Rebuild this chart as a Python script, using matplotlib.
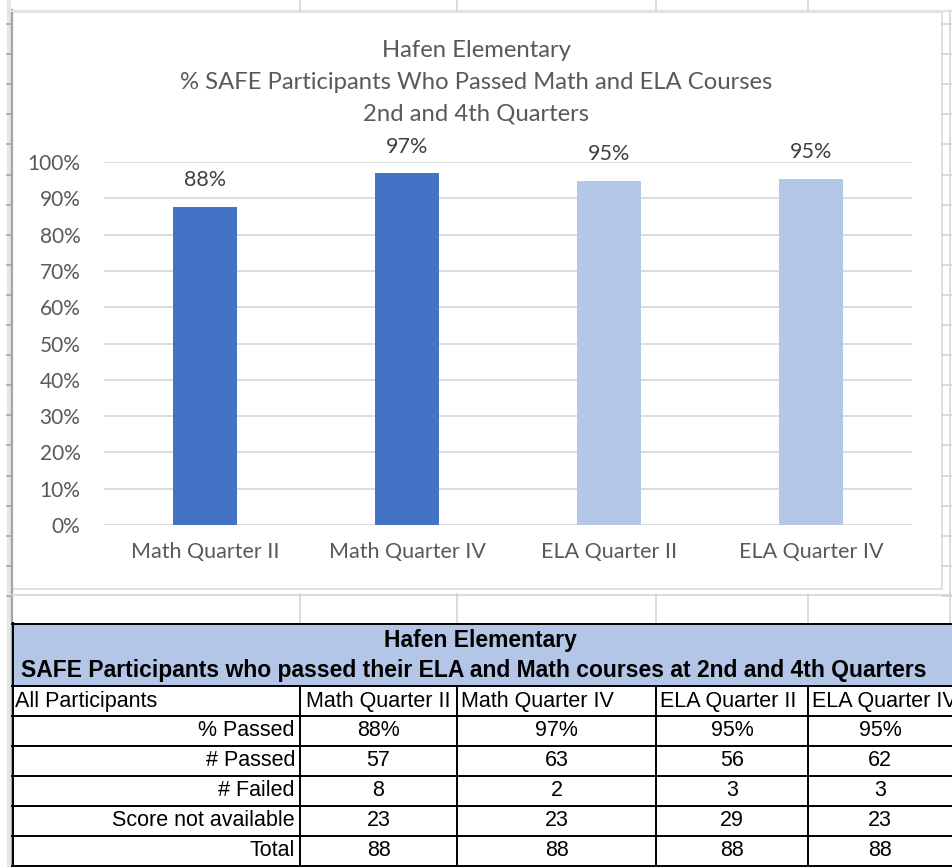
"""Hafen Elementary: SAFE pass rates chart with the summary table below it."""

import matplotlib

matplotlib.use("Agg")
import matplotlib.pyplot as plt
from matplotlib.patches import Rectangle
from matplotlib.ticker import PercentFormatter
import numpy as np


CATEGORIES = ["Math Quarter II", "Math Quarter IV", "ELA Quarter II", "ELA Quarter IV"]
PCT_PASSED = [0.877, 0.969, 0.949, 0.954]
BAR_COLORS = ["#4472C4", "#4472C4", "#B4C7E7", "#B4C7E7"]

TITLE_LINES = [
    "Hafen Elementary",
    "% SAFE Participants Who Passed Math and ELA Courses",
    "2nd and 4th Quarters",
]

TABLE_TITLE = [
    "Hafen Elementary",
    "SAFE Participants who passed their ELA and Math courses at 2nd and 4th Quarters",
]
ROW_LABELS = ["% Passed", "# Passed", "# Failed", "Score not available", "Total"]
N_PASSED = [57, 63, 56, 62]
N_FAILED = [8, 2, 3, 3]
N_NOT_AVAILABLE = [23, 23, 29, 23]
N_TOTAL = [88, 88, 88, 88]

W, H = 952, 867
CHART_FONT = "Lato"
TABLE_FONT = ["Liberation Sans", "DejaVu Sans"]
GRID = "#d9d9d9"
SHEET = "#d4d4d4"


def main() -> None:
    fig = plt.figure(figsize=(W / 100, H / 100), dpi=100)
    fig.patch.set_facecolor("white")

    # background axes in pixel coordinates: spreadsheet lines + table
    bg = fig.add_axes([0, 0, 1, 1])
    bg.set_xlim(0, W)
    bg.set_ylim(H, 0)
    bg.axis("off")

    # spreadsheet row lines peeking out on both sides of the chart
    rows = 24 + 30.1 * np.arange(20)
    bg.add_patch(Rectangle((7, 0), 4, H, facecolor="#e6e6e6", edgecolor="none"))
    bg.plot([11.5, 11.5], [10, H], color="#a6a6a6", lw=1.6)
    for y in rows:
        bg.plot([7, 12], [y, y], color="#a6a6a6", lw=1.2)
        bg.plot([942, W], [y, y], color=SHEET, lw=1.2)
    bg.plot([950, 950], [10, 623], color=SHEET, lw=1.2)
    bg.plot([12, W], [11, 11], color="#e3e3e3", lw=1.5)
    for x in (300, 457, 656, 808):
        bg.plot([x, x], [0, 11], color=SHEET, lw=1.2)
        bg.plot([x, x], [594, 623], color=SHEET, lw=1.2)
    bg.plot([12, W], [594.5, 594.5], color=SHEET, lw=1.2)

    # chart area border
    bg.add_patch(Rectangle((12, 12), 930, 577, facecolor="white",
                           edgecolor=GRID, lw=1.2))

    # chart title
    for text, y in zip(TITLE_LINES, (57, 89, 121)):
        bg.text(476, y, text, ha="center", va="baseline", fontsize=17.2,
                color="#595959", family=CHART_FONT)

    # bar chart
    ax = fig.add_axes([104 / W, (H - 525) / H, (912 - 104) / W, (525 - 162) / H])
    ax.patch.set_alpha(0)
    x = np.arange(len(CATEGORIES))
    bars = ax.bar(x, PCT_PASSED, width=0.317, color=BAR_COLORS, zorder=2)
    for bar, v in zip(bars, PCT_PASSED):
        ax.annotate(
            f"{v:.0%}",
            xy=(bar.get_x() + bar.get_width() / 2, v),
            xytext=(0, 19),
            textcoords="offset points",
            ha="center",
            va="center",
            fontsize=15.5,
            color="#404040",
            family=CHART_FONT,
            annotation_clip=False,
        )
    ax.set_xlim(-0.5, len(CATEGORIES) - 0.5)
    ax.set_ylim(0, 1)
    ax.set_yticks(np.linspace(0, 1, 11))
    ax.yaxis.set_major_formatter(PercentFormatter(1.0, decimals=0))
    ax.set_xticks(x)
    ax.set_xticklabels(CATEGORIES)
    ax.yaxis.grid(True, color=GRID, lw=1.3, zorder=0)
    ax.set_axisbelow(True)
    for side in ax.spines.values():
        side.set_visible(False)
    ax.tick_params(axis="y", length=0, pad=17, labelsize=15, labelcolor="#595959")
    ax.tick_params(axis="x", length=0, pad=12, labelsize=15.5, labelcolor="#595959")
    for lab in ax.get_xticklabels() + ax.get_yticklabels():
        lab.set_family(CHART_FONT)

    # summary table
    cols = [12, 300, 457, 656, 808, W]
    row_y = [686, 716, 746, 776, 806, 836, 866]
    bg.add_patch(Rectangle((12, 623), W - 12, 63, facecolor="#B4C6E7",
                           edgecolor="none", zorder=1))
    bg.plot([12, W], [623.5, 623.5], color="black", lw=1.4, zorder=3)
    for y in row_y:
        bg.plot([12, W], [y, y], color="black", lw=1.4, zorder=3)
    bg.plot([12.5, 12.5], [623, 866], color="black", lw=1.4, zorder=3)
    for xc in cols[1:5]:
        bg.plot([xc, xc], [686, 866], color="black", lw=1.4, zorder=3)

    bg.text(480, 641, TABLE_TITLE[0], ha="center", va="center", fontsize=16.5,
            fontweight="bold", family=TABLE_FONT, zorder=4)
    bg.text(474, 670, TABLE_TITLE[1], ha="center", va="center", fontsize=16.5,
            fontweight="bold", family=TABLE_FONT, zorder=4)

    bg.text(15, 701, "All Participants", ha="left", va="center", fontsize=15.5,
            family=TABLE_FONT, zorder=4)
    pads = [6, 4, 4, 4]
    for i, name in enumerate(CATEGORIES):
        # the last header runs past the right edge, as in the sheet
        bg.text(cols[i + 1] + pads[i], 701, name, ha="left", va="center",
                fontsize=15.5, family=TABLE_FONT, zorder=4)

    table_rows = [
        [f"{v:.0%}" for v in PCT_PASSED],
        N_PASSED,
        N_FAILED,
        N_NOT_AVAILABLE,
        N_TOTAL,
    ]
    for r, (label, values) in enumerate(zip(ROW_LABELS, table_rows)):
        yc = (row_y[r + 1] + row_y[r + 2]) / 2
        bg.text(295, yc, label, ha="right", va="center", fontsize=15.5,
                family=TABLE_FONT, zorder=4)
        for i, v in enumerate(values):
            xc = (cols[i + 1] + cols[i + 2]) / 2
            bg.text(xc, yc, str(v), ha="center", va="center", fontsize=15.5,
                    family=TABLE_FONT, zorder=4)

    fig.savefig("out.png", dpi=100)


if __name__ == "__main__":
    main()
